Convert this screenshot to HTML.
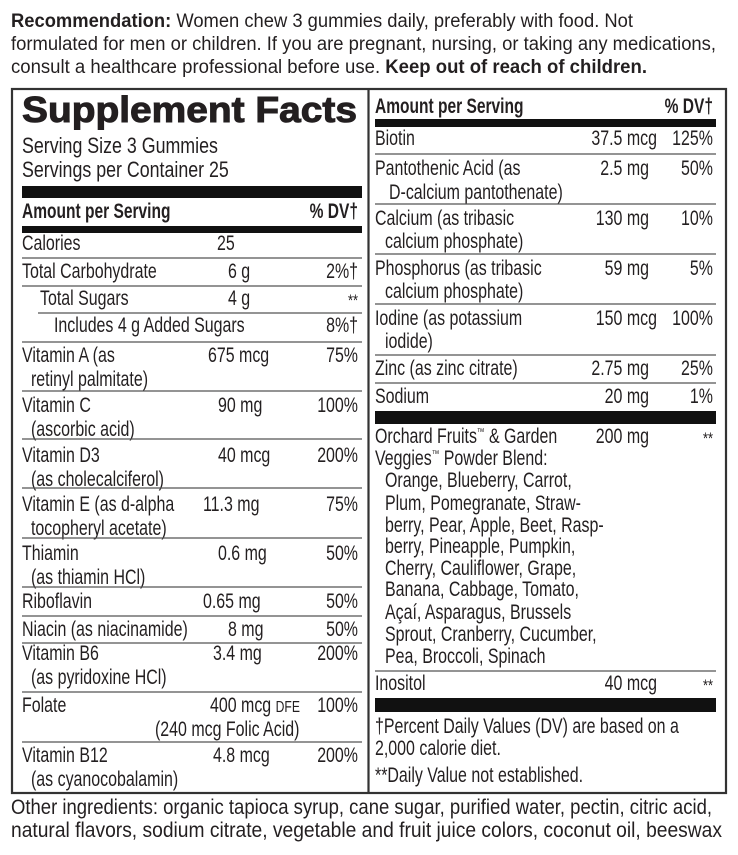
<!DOCTYPE html>
<html><head><meta charset="utf-8">
<style>
html,body{margin:0;padding:0;background:#fff;}
svg{display:block}
text{font-family:"Liberation Sans",Arial,sans-serif;font-size:21px;fill:#231f20;}
.s{transform-box:fill-box;transform-origin:left center;transform:scaleX(.76);}
.e{transform-box:fill-box;transform-origin:right center;transform:scaleX(.76);text-anchor:end;}
.bs{font-weight:bold;transform-box:fill-box;transform-origin:left center;transform:scaleX(.74);}
.be{font-weight:bold;transform-box:fill-box;transform-origin:right center;transform:scaleX(.74);text-anchor:end;}
.sv{font-size:22px;transform-box:fill-box;transform-origin:left center;transform:scaleX(.81);}
.st{font-size:17px;}
.r{stroke:#555;stroke-width:1.3;}
</style></head><body>
<svg width="738" height="855" viewBox="0 0 738 855" xmlns="http://www.w3.org/2000/svg">
<text x="11" y="27" style="font-size:19px" textLength="622" lengthAdjust="spacingAndGlyphs"><tspan font-weight="bold">Recommendation:</tspan> Women chew 3 gummies daily, preferably with food. Not</text>
<text x="11" y="50" style="font-size:19px" textLength="705" lengthAdjust="spacingAndGlyphs">formulated for men or children. If you are pregnant, nursing, or taking any medications,</text>
<text x="11" y="73" style="font-size:19px" textLength="636" lengthAdjust="spacingAndGlyphs">consult a healthcare professional before use. <tspan font-weight="bold">Keep out of reach of children.</tspan></text>

<rect x="12" y="89" width="714" height="704" fill="none" stroke="#333" stroke-width="2.2"/>
<line x1="368.5" y1="89" x2="368.5" y2="793" stroke="#333" stroke-width="2.2"/>

<text x="22" y="122" style="font-size:36px;font-weight:bold;stroke:#231f20;stroke-width:1" textLength="335" lengthAdjust="spacingAndGlyphs">Supplement Facts</text>
<text x="22" y="153" class="sv">Serving Size 3 Gummies</text>
<text x="22" y="177" class="sv">Servings per Container 25</text>
<rect x="22" y="186" width="340" height="12" fill="#111"/>
<text x="22" y="218" class="bs">Amount per Serving</text>
<text x="358" y="218" class="be">% DV†</text>
<rect x="22" y="226" width="340" height="7" fill="#111"/>

<text x="22" y="250" class="s">Calories</text><text x="217" y="250" class="s">25</text>
<line x1="22" y1="258" x2="362" y2="258" class="r"/>
<text x="22" y="278" class="s">Total Carbohydrate</text><text x="228" y="278" class="s">6 g</text><text x="358" y="278" class="e">2%†</text>
<line x1="22" y1="286" x2="362" y2="286" class="r"/>
<text x="40" y="305" class="s">Total Sugars</text><text x="228" y="305" class="s">4 g</text><text x="358" y="306" class="e st">**</text>
<line x1="38" y1="313" x2="362" y2="313" class="r"/>
<text x="54" y="332" class="s">Includes 4 g Added Sugars</text><text x="358" y="332" class="e">8%†</text>
<line x1="22" y1="342" x2="362" y2="342" class="r"/>

<text x="22" y="362" class="s">Vitamin A (as</text><text x="31" y="386" class="s">retinyl palmitate)</text><text x="208" y="362" class="s">675 mcg</text><text x="358" y="362" class="e">75%</text>
<line x1="22" y1="391" x2="362" y2="391" class="r"/>
<text x="22" y="412" class="s">Vitamin C</text><text x="31" y="436" class="s">(ascorbic acid)</text><text x="218" y="412" class="s">90 mg</text><text x="358" y="412" class="e">100%</text>
<line x1="22" y1="439" x2="362" y2="439" class="r"/>
<text x="22" y="462" class="s">Vitamin D3</text><text x="31" y="486" class="s">(as cholecalciferol)</text><text x="218" y="462" class="s">40 mcg</text><text x="358" y="462" class="e">200%</text>
<line x1="22" y1="488" x2="362" y2="488" class="r"/>
<text x="22" y="511" class="s">Vitamin E (as d-alpha</text><text x="31" y="535" class="s">tocopheryl acetate)</text><text x="203" y="511" class="s">11.3 mg</text><text x="358" y="511" class="e">75%</text>
<line x1="22" y1="538" x2="362" y2="538" class="r"/>
<text x="22" y="560" class="s">Thiamin</text><text x="31" y="584" class="s">(as thiamin HCl)</text><text x="218" y="560" class="s">0.6 mg</text><text x="358" y="560" class="e">50%</text>
<line x1="22" y1="587" x2="362" y2="587" class="r"/>
<text x="22" y="608" class="s">Riboflavin</text><text x="203" y="608" class="s">0.65 mg</text><text x="358" y="608" class="e">50%</text>
<line x1="22" y1="616" x2="362" y2="616" class="r"/>
<text x="22" y="636" class="s">Niacin (as niacinamide)</text><text x="228" y="636" class="s">8 mg</text><text x="358" y="636" class="e">50%</text>
<line x1="22" y1="643" x2="362" y2="643" class="r"/>
<text x="22" y="660" class="s">Vitamin B6</text><text x="31" y="684" class="s">(as pyridoxine HCl)</text><text x="213" y="660" class="s">3.4 mg</text><text x="358" y="660" class="e">200%</text>
<line x1="22" y1="692" x2="362" y2="692" class="r"/>
<text x="22" y="712" class="s">Folate</text><text x="210" y="712" class="s">400 mcg <tspan style="font-size:16px">DFE</tspan></text><text x="155" y="736" class="s">(240 mcg Folic Acid)</text><text x="358" y="712" class="e">100%</text>
<line x1="22" y1="742" x2="362" y2="742" class="r"/>
<text x="22" y="762" class="s">Vitamin B12</text><text x="31" y="786" class="s">(as cyanocobalamin)</text><text x="213" y="762" class="s">4.8 mcg</text><text x="358" y="762" class="e">200%</text>

<text x="375" y="113" class="bs">Amount per Serving</text>
<text x="713" y="113" class="be">% DV†</text>
<rect x="375" y="119" width="341" height="8" fill="#111"/>
<text x="375" y="145" class="s">Biotin</text><text x="657" y="145" class="e">37.5 mcg</text><text x="713" y="145" class="e">125%</text>
<line x1="375" y1="154" x2="716" y2="154" class="r"/>
<text x="375" y="175" class="s">Pantothenic Acid (as</text><text x="389" y="199" class="s">D-calcium pantothenate)</text><text x="649" y="175" class="e">2.5 mg</text><text x="713" y="175" class="e">50%</text>
<line x1="375" y1="204" x2="716" y2="204" class="r"/>
<text x="375" y="225" class="s">Calcium (as tribasic</text><text x="385" y="248" class="s">calcium phosphate)</text><text x="649" y="225" class="e">130 mg</text><text x="713" y="225" class="e">10%</text>
<line x1="375" y1="254" x2="716" y2="254" class="r"/>
<text x="375" y="275" class="s">Phosphorus (as tribasic</text><text x="385" y="298" class="s">calcium phosphate)</text><text x="649" y="275" class="e">59 mg</text><text x="713" y="275" class="e">5%</text>
<line x1="375" y1="304" x2="716" y2="304" class="r"/>
<text x="375" y="325" class="s">Iodine (as potassium</text><text x="385" y="348" class="s">iodide)</text><text x="657" y="325" class="e">150 mcg</text><text x="713" y="325" class="e">100%</text>
<line x1="375" y1="355" x2="716" y2="355" class="r"/>
<text x="375" y="375" class="s">Zinc (as zinc citrate)</text><text x="649" y="375" class="e">2.75 mg</text><text x="713" y="375" class="e">25%</text>
<line x1="375" y1="383" x2="716" y2="383" class="r"/>
<text x="375" y="403" class="s">Sodium</text><text x="649" y="403" class="e">20 mg</text><text x="713" y="403" class="e">1%</text>
<rect x="375" y="411" width="341" height="13" fill="#111"/>
<text x="375" y="443" class="s">Orchard Fruits<tspan style="font-size:10px" dy="-8">™</tspan><tspan dy="8"> &amp; Garden</tspan></text>
<text x="649" y="443" class="e">200 mg</text><text x="713" y="444" class="e st">**</text>
<text x="375" y="465" class="s">Veggies<tspan style="font-size:10px" dy="-8">™</tspan><tspan dy="8"> Powder Blend:</tspan></text>
<text x="385" y="487" class="s">Orange, Blueberry, Carrot,</text>
<text x="385" y="510" class="s">Plum, Pomegranate, Straw-</text>
<text x="385" y="532" class="s">berry, Pear, Apple, Beet, Rasp-</text>
<text x="385" y="553" class="s">berry, Pineapple, Pumpkin,</text>
<text x="385" y="575" class="s">Cherry, Cauliflower, Grape,</text>
<text x="385" y="596" class="s">Banana, Cabbage, Tomato,</text>
<text x="385" y="619" class="s">Açaí, Asparagus, Brussels</text>
<text x="385" y="641" class="s">Sprout, Cranberry, Cucumber,</text>
<text x="385" y="663" class="s">Pea, Broccoli, Spinach</text>
<line x1="375" y1="671" x2="716" y2="671" class="r"/>
<text x="375" y="690" class="s">Inositol</text><text x="657" y="690" class="e">40 mcg</text><text x="713" y="691" class="e st">**</text>
<rect x="375" y="698" width="341" height="14" fill="#111"/>
<text x="375" y="733" class="s">†Percent Daily Values (DV) are based on a</text>
<text x="375" y="755" class="s">2,000 calorie diet.</text>
<text x="375" y="782" class="s">**Daily Value not established.</text>

<text x="11" y="814" textLength="701" lengthAdjust="spacingAndGlyphs">Other ingredients: organic tapioca syrup, cane sugar, purified water, pectin, citric acid,</text>
<text x="11" y="837" textLength="711" lengthAdjust="spacingAndGlyphs">natural flavors, sodium citrate, vegetable and fruit juice colors, coconut oil, beeswax</text>
</svg>
</body></html>
